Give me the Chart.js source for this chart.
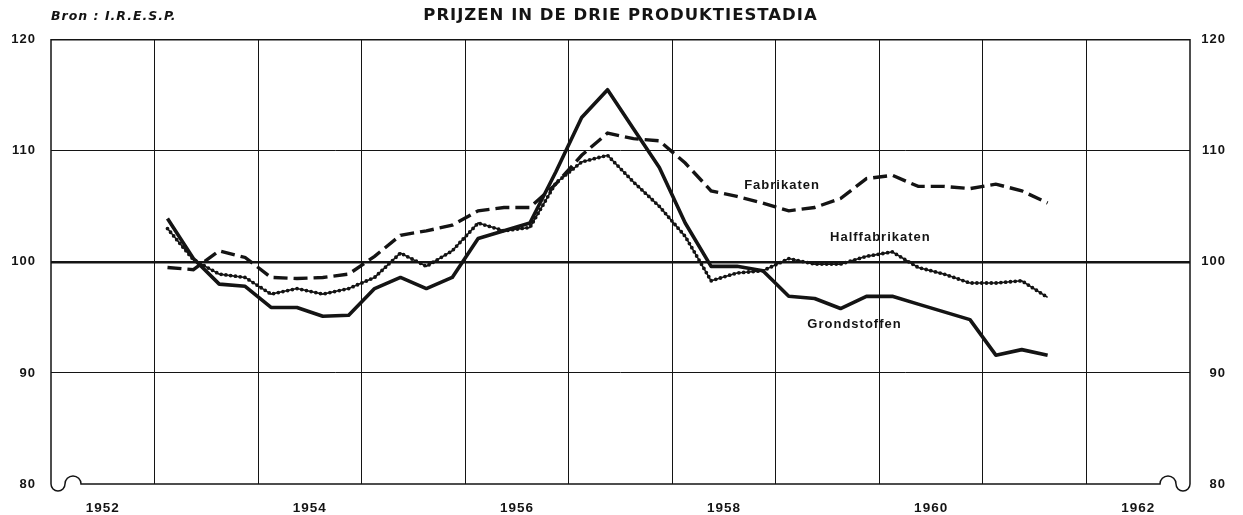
<!DOCTYPE html>
<html>
<head>
<meta charset="utf-8">
<title>Prijzen in de drie produktiestadia</title>
<script src="https://cdn.jsdelivr.net/npm/chart.js@4/dist/chart.umd.min.js"></script>
<style>
html, body { margin: 0; padding: 0; background: #fff; }
</style>
</head>
<body>
<canvas id="prijzen" width="1243" height="515"></canvas>
<script>
// kwartalen 1953-I t/m 1961-III
var kwartalen = [
    '1953-1', '1953-2', '1953-3', '1953-4',
    '1954-1', '1954-2', '1954-3', '1954-4',
    '1955-1', '1955-2', '1955-3', '1955-4',
    '1956-1', '1956-2', '1956-3', '1956-4',
    '1957-1', '1957-2', '1957-3', '1957-4',
    '1958-1', '1958-2', '1958-3', '1958-4',
    '1959-1', '1959-2', '1959-3', '1959-4',
    '1960-1', '1960-2', '1960-3', '1960-4',
    '1961-1', '1961-2', '1961-3'
];
var grondstoffen = [103.9, 100.3, 98.0, 97.8, 95.9, 95.9, 95.1, 95.2, 97.6, 98.6, 97.6, 98.6,
    102.1, 102.8, 103.5, 108.1, 113.0, 115.5, 112.0, 108.5, 103.5, 99.6, 99.6, 99.2,
    96.9, 96.7, 95.8, 96.9, 96.9, 96.2, 95.5, 94.8, 91.6, 92.1, 91.6];
var halffabrikaten = [103.0, 100.2, 98.9, 98.6, 97.1, 97.6, 97.1, 97.6, 98.6, 100.8, 99.6, 101.0,
    103.5, 102.8, 103.1, 107.1, 109.0, 109.6, 107.2, 105.0, 102.3, 98.3, 99.0, 99.2,
    100.3, 99.8, 99.8, 100.5, 100.9, 99.5, 98.9, 98.1, 98.1, 98.3, 96.8];
var fabrikaten = [99.5, 99.3, 101.0, 100.4, 98.6, 98.5, 98.6, 98.9, 100.5, 102.4, 102.8, 103.3,
    104.6, 104.9, 104.9, 107.0, 109.6, 111.6, 111.1, 110.9, 108.9, 106.4, 105.9, 105.3,
    104.6, 104.9, 105.7, 107.5, 107.8, 106.8, 106.8, 106.6, 107.0, 106.4, 105.3];
var jaren = [1952, 1953, 1954, 1955, 1956, 1957, 1958, 1959, 1960, 1961, 1962];
var jaarLabels = ['1952', '', '1954', '', '1956', '', '1958', '', '1960', '', '1962'];
var yTicks = [80, 90, 100, 110, 120];
var reeksNamen = ['Grondstoffen', 'Halffabrikaten', 'Fabrikaten'];

var titel = 'PRIJZEN IN DE DRIE PRODUKTIESTADIA';
var bron = 'Bron : I.R.E.S.P.';
// plaats van de namen bij de lijnen (in jaar / indexwaarde)
var naamPlaats = [[1959.76, 94.4], [1960.01, 102.2], [1959.06, 106.85]];

var smal = "'Liberation Sans', Arial, sans-serif";
var inkt = '#141414';

function kwartaalPos(k) {
    var d = k.split('-');
    return Number(d[0]) + (Number(d[1]) - 0.5) / 4;
}
function punten(reeks) {
    return kwartalen.map(function (k, i) { return { x: kwartaalPos(k), y: reeks[i] }; });
}

var kader = {
    id: 'kader',
    beforeDraw: function (chart) {
        chart.ctx.letterSpacing = '1px';
    },
    beforeDatasetsDraw: function (chart) {
        var a = chart.chartArea, c = chart.ctx;
        var L = a.left, R = a.right, T = a.top, B = a.bottom;
        c.save();
        c.strokeStyle = inkt;
        c.lineWidth = 1.5;
        c.beginPath();
        c.moveTo(L, T);
        c.lineTo(L, B);
        c.arc(L + 7, B, 7, Math.PI, 0, true);
        c.arc(L + 22, B, 8, Math.PI, 2 * Math.PI, false);
        c.lineTo(R - 30, B);
        c.arc(R - 22, B, 8, Math.PI, 2 * Math.PI, false);
        c.arc(R - 7, B, 7, Math.PI, 0, true);
        c.lineTo(R, T);
        c.closePath();
        c.stroke();
        c.restore();
    },
    afterDatasetsDraw: function (chart) {
        var c = chart.ctx, sx = chart.scales.x, sy = chart.scales.y;
        c.save();
        c.fillStyle = inkt;
        c.font = 'bold 13px ' + smal;
        c.textAlign = 'center';
        c.textBaseline = 'middle';
        reeksNamen.forEach(function (naam, i) {
            c.fillText(naam, sx.getPixelForValue(naamPlaats[i][0]), sy.getPixelForValue(naamPlaats[i][1]));
        });
        c.font = 'italic bold 12.5px "DejaVu Sans", sans-serif';
        c.textAlign = 'left';
        c.fillText(bron, chart.chartArea.left, 17);
        c.restore();
    },
    afterDraw: function (chart) {
        chart.ctx.letterSpacing = '0px';
    }
};

var ctx = document.getElementById('prijzen').getContext('2d');
var chart = new Chart(ctx, {
    type: 'line',
    data: {
        datasets: [
            {
                label: reeksNamen[0],
                data: punten(grondstoffen),
                borderColor: inkt,
                borderWidth: 3.6,
                borderJoinStyle: 'round'
            },
            {
                label: reeksNamen[1],
                data: punten(halffabrikaten),
                borderColor: inkt,
                borderWidth: 1.6
            },
            {
                label: reeksNamen[1] + ' (punten)',
                data: punten(halffabrikaten),
                borderColor: inkt,
                borderWidth: 3.8,
                borderDash: [0, 4.8],
                borderCapStyle: 'round'
            },
            {
                label: reeksNamen[2],
                data: punten(fabrikaten),
                borderColor: inkt,
                borderWidth: 3.4,
                borderDash: [14, 6]
            }
        ]
    },
    options: {
        responsive: false,
        animation: false,
        devicePixelRatio: 1,
        elements: { point: { radius: 0 }, line: { tension: 0 } },
        layout: { padding: { left: 0, right: 17, top: 0, bottom: 0 } },
        plugins: {
            legend: { display: false },
            tooltip: { enabled: false },
            title: {
                display: true,
                fullSize: false,
                text: titel,
                color: inkt,
                font: { family: "'DejaVu Sans', sans-serif", size: 16.5, weight: 'bold' },
                padding: { top: 6, bottom: 14 }
            }
        },
        scales: {
            x: {
                type: 'linear',
                position: 'bottom',
                min: jaren[0],
                max: jaren[jaren.length - 1] + 1,
                afterBuildTicks: function (s) {
                    s.ticks = jaren.concat([jaren[jaren.length - 1] + 1]).map(function (j) { return { value: j }; });
                },
                ticks: { display: false },
                grid: {
                    drawTicks: false,
                    lineWidth: 1,
                    color: function (c) {
                        var v = c.tick && c.tick.value;
                        return (v === jaren[0] || v === jaren[jaren.length - 1] + 1) ? 'rgba(0,0,0,0)' : inkt;
                    }
                },
                border: { display: false },
                afterFit: function (s) { s.height = 0; }
            },
            jaar: {
                type: 'linear',
                position: 'bottom',
                min: jaren[0],
                max: jaren[jaren.length - 1] + 1,
                afterBuildTicks: function (s) {
                    s.ticks = jaren.filter(function (j, i) { return jaarLabels[i] !== ''; })
                        .map(function (j) { return { value: j + 0.5 }; });
                },
                ticks: {
                    autoSkip: false,
                    maxRotation: 0,
                    padding: 8,
                    color: inkt,
                    font: { family: smal, size: 13.5, weight: 'bold' },
                    callback: function (v) { return jaarLabels[jaren.indexOf(Math.floor(v))]; }
                },
                grid: { display: false },
                border: { display: false },
                afterFit: function (s) { s.height = 31; }
            },
            y: {
                type: 'linear',
                position: 'left',
                min: yTicks[0],
                max: yTicks[yTicks.length - 1],
                afterBuildTicks: function (s) {
                    s.ticks = yTicks.map(function (v) { return { value: v }; });
                },
                ticks: {
                    padding: 15,
                    color: inkt,
                    font: { family: smal, size: 13, weight: 'bold' }
                },
                grid: {
                    drawTicks: false,
                    lineWidth: function (c) { return c.tick && c.tick.value === 100 ? 2.5 : 1; },
                    color: function (c) {
                        var v = c.tick && c.tick.value;
                        return (v === yTicks[0] || v === yTicks[yTicks.length - 1]) ? 'rgba(0,0,0,0)' : inkt;
                    }
                },
                border: { display: false },
                afterFit: function (s) { s.width = 51; }
            },
            y2: {
                type: 'linear',
                position: 'right',
                min: yTicks[0],
                max: yTicks[yTicks.length - 1],
                afterBuildTicks: function (s) {
                    s.ticks = yTicks.map(function (v) { return { value: v }; });
                },
                ticks: {
                    crossAlign: 'far',
                    color: inkt,
                    font: { family: smal, size: 13, weight: 'bold' }
                },
                grid: { display: false },
                border: { display: false },
                afterFit: function (s) { s.width = 36; }
            }
        }
    },
    plugins: [kader]
});
</script>
</body>
</html>
